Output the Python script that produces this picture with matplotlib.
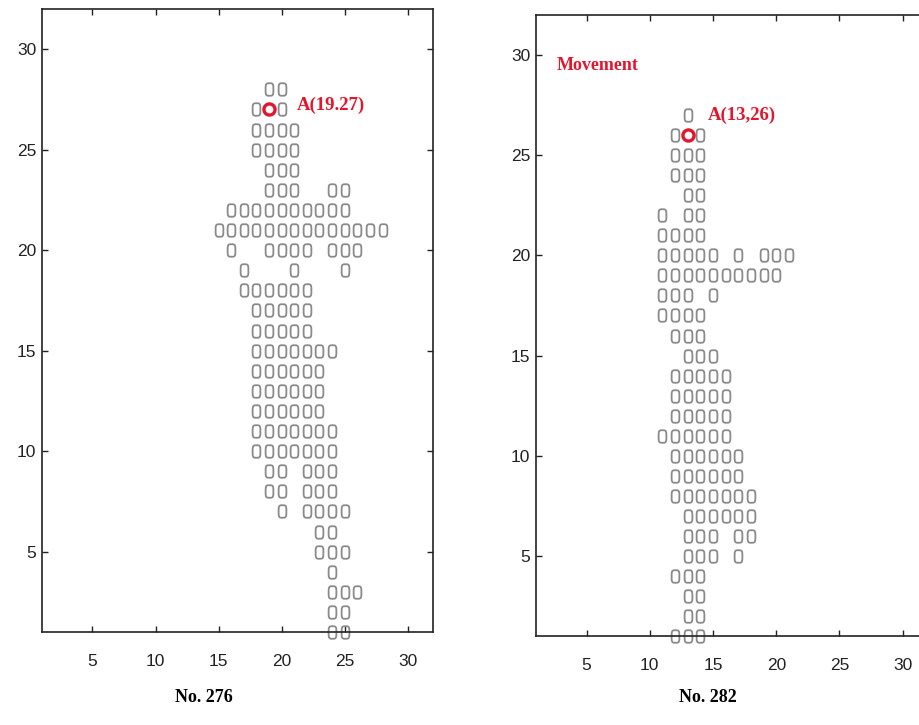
import matplotlib
matplotlib.use("Agg")
import matplotlib.pyplot as plt
import matplotlib.path as mpath
import numpy as np

# No. 276 : filas (y) y columnas ocupadas (x)
left_rows = [28, 27, 26, 25, 24, 23, 22, 21, 20, 19, 18, 17, 16, 15,
             14, 13, 12, 11, 10, 9, 8, 7, 6, 5, 4, 3, 2, 1]
left_cols = [
    [19, 20], [18, 20], [18, 19, 20, 21], [18, 19, 20, 21], [19, 20, 21],
    [19, 20, 21, 24, 25], list(range(16, 26)), list(range(15, 29)),
    [16, 19, 20, 21, 22, 24, 25, 26], [17, 21, 25], list(range(17, 23)),
    list(range(18, 23)), list(range(18, 23)), list(range(18, 25)),
    list(range(18, 24)), list(range(18, 24)), list(range(18, 24)),
    list(range(18, 25)), list(range(18, 25)), [19, 20, 22, 23, 24],
    [19, 20, 22, 23, 24], [20, 22, 23, 24, 25], [23, 24], [23, 24, 25],
    [24], [24, 25, 26], [24, 25], [24, 25],
]
left_mark = (19, 27)
left_label = "A(19.27)"
left_title = "No. 276"

# No. 282
right_rows = [27, 26, 25, 24, 23, 22, 21, 20, 19, 18, 17, 16, 15, 14,
              13, 12, 11, 10, 9, 8, 7, 6, 5, 4, 3, 2, 1]
right_cols = [
    [13], [12, 14], [12, 13, 14], [12, 13, 14], [13, 14], [11, 13, 14],
    [11, 12, 13, 14], [11, 12, 13, 14, 15, 17, 19, 20, 21],
    list(range(11, 21)), [11, 12, 13, 15], [11, 12, 13, 14], [12, 13, 14],
    [13, 14, 15], list(range(12, 17)), list(range(12, 17)),
    list(range(12, 17)), list(range(11, 17)), list(range(12, 18)),
    list(range(12, 18)), list(range(12, 19)), list(range(13, 19)),
    [13, 14, 15, 17, 18], [13, 14, 15, 17], [12, 13, 14], [13, 14],
    [13, 14], [12, 13, 14],
]
right_mark = (13, 26)
right_label = "A(13,26)"
right_title = "No. 282"

ticks = [5, 10, 15, 20, 25, 30]
RED = '#e3162d'
GRAY = '#8a8a8a'

# marcador: rectangulo redondeado (como un "0")
t = np.linspace(0, 2 * np.pi, 64)
c, s = np.cos(t), np.sin(t)
verts = np.column_stack([0.62 * np.sign(c) * np.abs(c) ** 0.5,
                         np.sign(s) * np.abs(s) ** 0.5])
box = mpath.Path(verts, closed=True)


def flatten(rows, cols):
    xs, ys = [], []
    for r, cc in zip(rows, cols):
        for x in cc:
            xs.append(x)
            ys.append(r)
    return xs, ys


def draw(ax, rows, cols, mark, label, label_xy):
    xs, ys = flatten(rows, cols)
    ax.plot(xs, ys, linestyle='none', marker=box, markersize=9,
            markerfacecolor='none', markeredgecolor=GRAY, markeredgewidth=1.3,
            clip_on=False)
    ax.plot([mark[0]], [mark[1]], linestyle='none', marker='o', markersize=8,
            markerfacecolor='white', markeredgecolor=RED, markeredgewidth=2.4,
            zorder=5)
    ax.text(label_xy[0], label_xy[1], label, color=RED, fontsize=13.5,
            fontweight='bold', family='Liberation Serif', va='center')
    ax.set_xlim(1, 32)
    ax.set_ylim(1, 32)
    ax.set_xticks(ticks)
    ax.set_yticks(ticks)
    ax.tick_params(direction='in', top=True, right=True, length=4, width=1,
                   labelsize=12.5, colors='#222222')
    ax.tick_params(axis='x', pad=16)
    ax.tick_params(axis='y', pad=4)
    for sp in ax.spines.values():
        sp.set_linewidth(1.2)
        sp.set_color('#222222')
    for lb in ax.get_xticklabels() + ax.get_yticklabels():
        lb.set_family('Liberation Sans')


fig = plt.figure(figsize=(9.2, 7.25), dpi=100)

ax1 = fig.add_axes([42 / 920, 93 / 725, 391 / 920, 623 / 725])
draw(ax1, left_rows, left_cols, left_mark, left_label, (21.2, 27.2))

ax2 = fig.add_axes([536 / 920, 89 / 725, 392 / 920, 621 / 725])
draw(ax2, right_rows, right_cols, right_mark, right_label, (14.6, 27.0))
ax2.text(2.6, 29.5, "Movement", color=RED, fontsize=13, fontweight='bold',
         family='Liberation Serif', va='center')

fig.text(204 / 920, 1 - 697 / 725, left_title, ha='center', va='center',
         fontsize=13, fontweight='bold', family='Liberation Serif')
fig.text(708 / 920, 1 - 697 / 725, right_title, ha='center', va='center',
         fontsize=13, fontweight='bold', family='Liberation Serif')

fig.savefig('out.png', dpi=100)
